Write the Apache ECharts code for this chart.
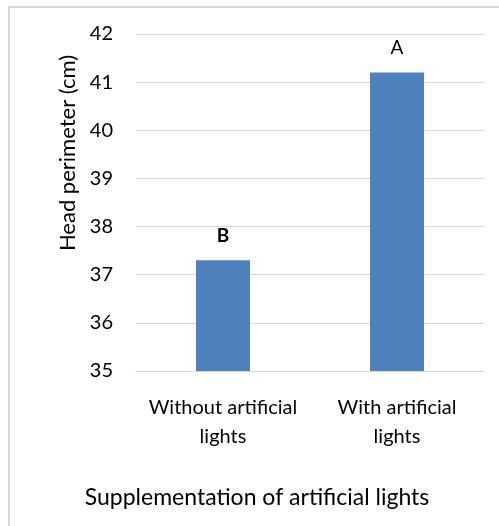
<!DOCTYPE html>
<html>
<head>
<meta charset="utf-8">
<script src="https://cdn.jsdelivr.net/npm/echarts@6/dist/echarts.min.js"></script>
<style>
  html, body { margin: 0; padding: 0; background: #fff; }
  #chart { width: 499px; height: 526px; }
</style>
</head>
<body>
<div id="chart"></div>
<script>
// Head perimeter by light supplementation treatment
const categories = ['Without artificial\nlights', 'With artificial\nlights'];
const headPerimeter = [37.3, 41.2];
const groupLetters = ['B', 'A'];
const yTicks = { min: 35, max: 42, interval: 1 };

const FONT = 'Lato, "Open Sans", sans-serif';

const chart = echarts.init(document.getElementById('chart'), null, { renderer: 'canvas' });

chart.setOption({
  backgroundColor: '#ffffff',
  animation: false,
  grid: { left: 136, right: 15, top: 34, bottom: 155, containLabel: false },
  xAxis: {
    type: 'category',
    data: categories,
    axisLine: { show: true, lineStyle: { color: '#D9D9D9', width: 1 } },
    axisTick: { show: false },
    axisLabel: {
      color: '#000',
      fontFamily: FONT,
      fontSize: 20,
      lineHeight: 29,
      margin: 22,
      interval: 0
    }
  },
  yAxis: {
    type: 'value',
    min: yTicks.min,
    max: yTicks.max,
    interval: yTicks.interval,
    axisLine: { show: false },
    axisTick: { show: false },
    splitLine: { show: true, lineStyle: { color: '#D9D9D9', width: 1 } },
    axisLabel: {
      color: '#000',
      fontFamily: FONT,
      fontSize: 20,
      margin: 23
    }
  },
  series: [{
    type: 'bar',
    data: headPerimeter.map((v, i) => ({
      value: v,
      label: { formatter: groupLetters[i], fontWeight: i === 0 ? 'bold' : 'normal' }
    })),
    barWidth: 54,
    itemStyle: { color: '#4F81BD' },
    label: {
      show: true,
      position: 'top',
      distance: 15,
      color: '#000',
      fontFamily: FONT,
      fontSize: 19
    }
  }],
  graphic: [
    {
      type: 'rect',
      shape: { x: 9, y: 7, width: 600, height: 600 },
      style: { fill: null, stroke: '#D9D9D9', lineWidth: 2 },
      silent: true,
      z: -1
    },
    {
      type: 'text',
      x: 68,
      y: 153,
      rotation: Math.PI / 2,
      style: {
        text: 'Head perimeter (cm)',
        fontFamily: FONT,
        fontSize: 22,
        fill: '#000',
        textAlign: 'center',
        textVerticalAlign: 'middle'
      }
    },
    {
      type: 'text',
      x: 257,
      y: 498,
      style: {
        text: 'Supplementation of artificial lights',
        fontFamily: FONT,
        fontSize: 23,
        fill: '#000',
        textAlign: 'center',
        textVerticalAlign: 'middle'
      }
    }
  ]
});
</script>
</body>
</html>
